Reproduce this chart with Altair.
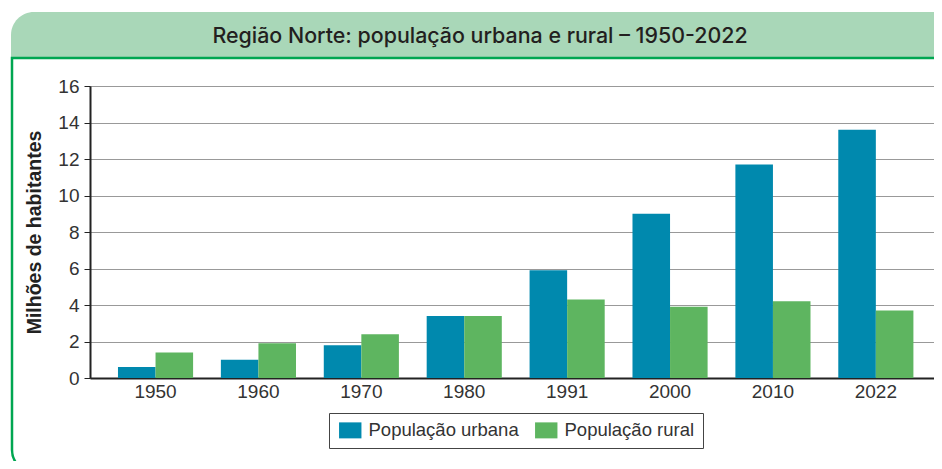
import altair as alt
import pandas as pd

years = ["1950", "1960", "1970", "1980", "1991", "2000", "2010", "2022"]
urbana = [0.6, 1.0, 1.8, 3.4, 5.9, 9.0, 11.7, 13.6]
rural = [1.4, 1.9, 2.4, 3.4, 4.3, 3.9, 4.2, 3.7]
series = ["População urbana", "População rural"]
colors = ["#0089AE", "#5EB560"]
y_ticks = [0, 2, 4, 6, 8, 10, 12, 14, 16]
title_text = "Região Norte: população urbana e rural – 1950-2022"
y_title = "Milhões de habitantes"

rows = []
for i, yr in enumerate(years):
    rows.append({"ano": yr, "serie": series[0], "valor": urbana[i]})
    rows.append({"ano": yr, "serie": series[1], "valor": rural[i]})
df = pd.DataFrame(rows)

FONT = "Liberation Sans"
one = alt.Data(values=[{"k": 1}])

header = alt.Chart(one).mark_rect(
    fill="#A9D7B8", cornerRadiusTopLeft=24, cornerRadiusTopRight=10
).encode(x=alt.value(-79), x2=alt.value(860), y=alt.value(-74), y2=alt.value(-28))

frame = alt.Chart(one).mark_rect(
    fill=None, filled=False, stroke="#00A651", strokeWidth=2.5, cornerRadiusBottomLeft=22
).encode(x=alt.value(-78), x2=alt.value(900), y=alt.value(-28), y2=alt.value(386))

title = alt.Chart(one).mark_text(
    text=title_text, font="Inter", fontWeight=500, fontSize=21.4, color="#231F20",
    align="center", baseline="middle"
).encode(x=alt.value(390), y=alt.value(-49))

bars = alt.Chart(df).mark_bar().encode(
    x=alt.X("ano:N", sort=years,
            scale=alt.Scale(paddingInner=0.27, paddingOuter=0.236, align=0.576),
            axis=alt.Axis(title=None, labelAngle=0, ticks=False, domainColor="#222",
                          domainWidth=2, labelFontSize=19, labelColor="#333",
                          labelFont=FONT, labelPadding=4, grid=False)),
    xOffset=alt.XOffset("serie:N", sort=series, scale=alt.Scale(paddingInner=0, paddingOuter=0)),
    y=alt.Y("valor:Q", scale=alt.Scale(domain=[0, 16], nice=False),
            axis=alt.Axis(values=y_ticks, title=y_title, titleFontSize=19.5,
                          titleFontWeight="bold", titleColor="#222", titleFont=FONT,
                          labelFontSize=19, labelColor="#333", labelFont=FONT,
                          tickSize=6, tickColor="#222", domainColor="#222", domainWidth=2,
                          gridColor="#999", labelPadding=5, titlePadding=13)),
    color=alt.Color("serie:N", sort=series,
                    scale=alt.Scale(domain=series, range=colors),
                    legend=alt.Legend(orient="none", legendX=239, legendY=327,
                                      direction="horizontal", title=None,
                                      symbolType="M-1.4,-1H1.4V1H-1.4Z", symbolSize=256,
                                      symbolStrokeWidth=0, symbolOffset=4,
                                      labelFontSize=18.5, labelColor="#333", labelFont=FONT,
                                      labelOffset=9, labelLimit=0, columnPadding=14,
                                      padding=8, strokeColor="#444", fillColor="white")),
)

chart = alt.layer(header, frame, title, bars).properties(
    width=844, height=292,
    autosize=alt.AutoSizeParams(type="none"),
    padding={"left": 82, "top": 78, "right": 0, "bottom": 83},
).configure_view(stroke="#999", strokeWidth=1)

chart.save("out.html", embed_options={"renderer": "svg", "actions": False})
